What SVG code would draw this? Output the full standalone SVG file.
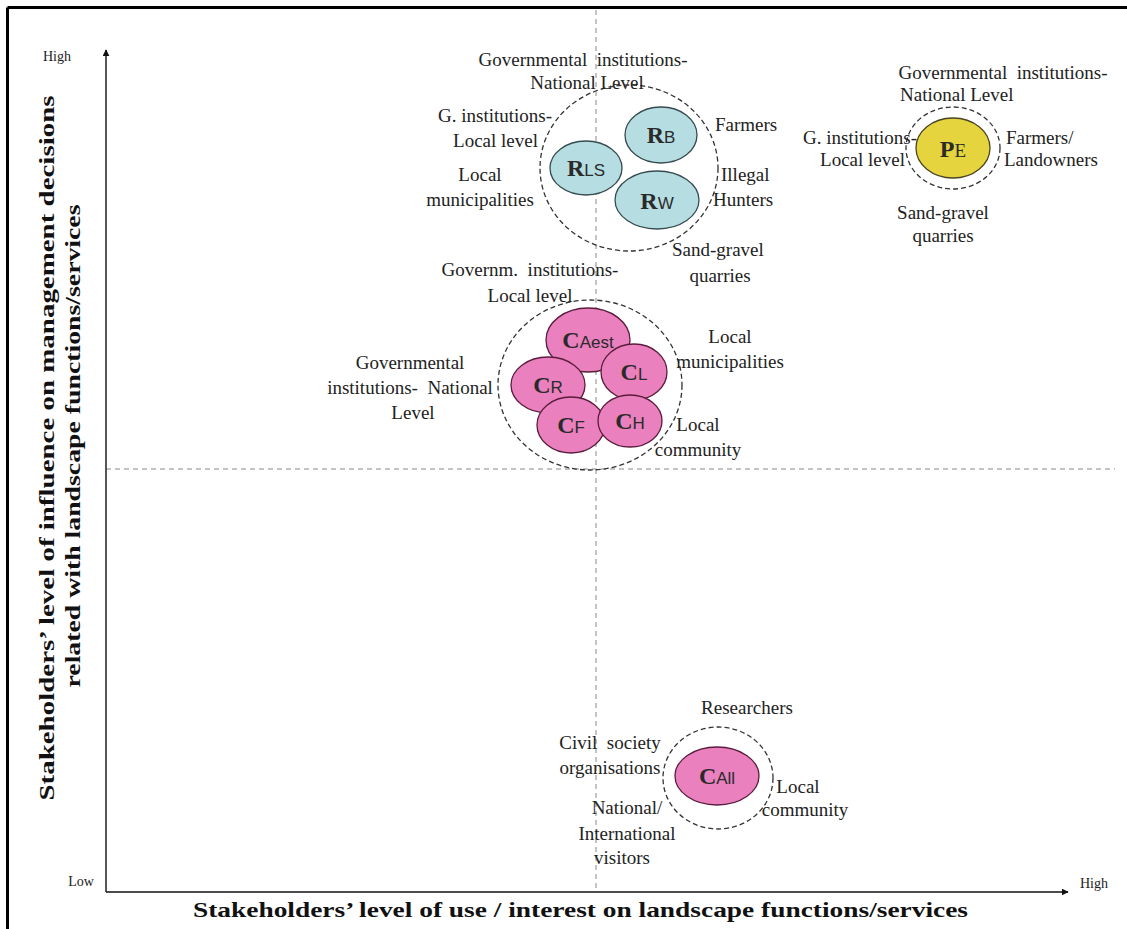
<svg xmlns="http://www.w3.org/2000/svg" width="1127" height="929" viewBox="0 0 1127 929">
<style>
.lbl{font-family:"Liberation Serif","Times New Roman",serif;font-size:19px;fill:#222}
.ax{font-family:"Liberation Serif","Times New Roman",serif;font-size:14px;fill:#222}
.title{font-family:"Liberation Serif","Times New Roman",serif;font-size:22px;font-weight:bold;fill:#111}
.big{font-family:"Liberation Serif","Times New Roman",serif;font-size:24px;font-weight:bold}
.sub{font-family:"Liberation Sans",Arial,sans-serif;font-size:17px}
.subs{font-family:"Liberation Serif","Times New Roman",serif;font-size:19px}
.nt{fill:#2a2a2a}
.grp{fill:none;stroke:#333;stroke-width:1.3;stroke-dasharray:5,3}
.teal{fill:#b6dde1;stroke:#354b4f;stroke-width:1.3}
.yel{fill:#e6d43e;stroke:#4a4420;stroke-width:1.3}
.pink{fill:#ea80be;stroke:#5a1c3c;stroke-width:1.3}
.guide{stroke:#888;stroke-width:1;stroke-dasharray:5,4;fill:none}
.axis{stroke:#111;stroke-width:1.4;fill:none}
</style>
<defs>
<marker id="arr" viewBox="0 0 10 10" refX="9" refY="5" markerWidth="7" markerHeight="7" orient="auto" markerUnits="userSpaceOnUse">
<path d="M0,0 L10,5 L0,10 z" fill="#111"/>
</marker>
</defs>
<rect width="1127" height="929" fill="#fff"/>
<!-- frame -->
<line x1="7.5" y1="7.5" x2="1127" y2="7.5" stroke="#000" stroke-width="3"/>
<line x1="7.5" y1="7.5" x2="7.5" y2="929" stroke="#000" stroke-width="3"/>

<g id="connectors">
<line class="guide" x1="596" y1="10" x2="596" y2="890"/>
<line class="guide" x1="106" y1="469" x2="1115" y2="469"/>
<line class="axis" x1="106" y1="892" x2="106" y2="50" marker-end="url(#arr)"/>
<line class="axis" x1="106" y1="892" x2="1068" y2="892" marker-end="url(#arr)"/>
</g>

<g id="axis-labels">
<text class="ax" x="57" y="61" text-anchor="middle">High</text>
<text class="ax" x="81" y="886" text-anchor="middle">Low</text>
<text class="ax" x="1080" y="888">High</text>
<text class="title" x="193" y="917" textLength="775" lengthAdjust="spacingAndGlyphs">Stakeholders’ level of use / interest on landscape functions/services</text>
<text class="title" transform="translate(54,448) rotate(-90)" text-anchor="middle" textLength="705" lengthAdjust="spacingAndGlyphs">Stakeholders’ level of influence on management decisions</text>
<text class="title" transform="translate(80,446) rotate(-90)" text-anchor="middle" textLength="483" lengthAdjust="spacingAndGlyphs">related with landscape functions/services</text>
</g>

<g id="cluster-R">
<ellipse class="grp" cx="629" cy="168" rx="89" ry="83"/>
<g id="node-RLS">
<ellipse class="teal" cx="586" cy="168" rx="36" ry="27"/>
<text class="nt" x="586" y="176" text-anchor="middle"><tspan class="big">R</tspan><tspan class="sub">LS</tspan></text>
</g>
<g id="node-RB">
<ellipse class="teal" cx="661" cy="135" rx="36" ry="28"/>
<text class="nt" x="661" y="143" text-anchor="middle"><tspan class="big">R</tspan><tspan class="sub">B</tspan></text>
</g>
<g id="node-RW">
<ellipse class="teal" cx="657" cy="200" rx="42" ry="29"/>
<text class="nt" x="657" y="209" text-anchor="middle"><tspan class="big">R</tspan><tspan class="sub">W</tspan></text>
</g>
<text class="lbl" x="583" y="66" text-anchor="middle" xml:space="preserve">Governmental  institutions-</text>
<text class="lbl" x="587" y="89" text-anchor="middle">National Level</text>
<text class="lbl" x="552" y="122" text-anchor="end">G. institutions-</text>
<text class="lbl" x="538" y="147" text-anchor="end">Local level</text>
<text class="lbl" x="480" y="181" text-anchor="middle">Local</text>
<text class="lbl" x="480" y="206" text-anchor="middle">municipalities</text>
<text class="lbl" x="715" y="131">Farmers</text>
<text class="lbl" x="721" y="181">Illegal</text>
<text class="lbl" x="713" y="206">Hunters</text>
<text class="lbl" x="672" y="256">Sand-gravel</text>
<text class="lbl" x="720" y="282" text-anchor="middle">quarries</text>
</g>

<g id="cluster-P">
<ellipse class="grp" cx="953" cy="148" rx="47" ry="41"/>
<g id="node-PE">
<ellipse class="yel" cx="953" cy="148" rx="37" ry="30"/>
<text class="nt" x="953" y="157" text-anchor="middle"><tspan class="big">P</tspan><tspan class="subs">E</tspan></text>
</g>
<text class="lbl" x="1003" y="79" text-anchor="middle" xml:space="preserve">Governmental  institutions-</text>
<text class="lbl" x="900" y="101">National Level</text>
<text class="lbl" x="917" y="144" text-anchor="end">G. institutions-</text>
<text class="lbl" x="905" y="166" text-anchor="end">Local level</text>
<text class="lbl" x="1006" y="144">Farmers/</text>
<text class="lbl" x="1004" y="166">Landowners</text>
<text class="lbl" x="943" y="219" text-anchor="middle">Sand-gravel</text>
<text class="lbl" x="943" y="242" text-anchor="middle">quarries</text>
</g>

<g id="cluster-C">
<ellipse class="grp" cx="590" cy="385" rx="92" ry="85"/>
<g id="node-CAest">
<ellipse class="pink" cx="588" cy="340" rx="42" ry="32"/>
<text class="nt" x="588" y="348" text-anchor="middle"><tspan class="big">C</tspan><tspan class="sub">Aest</tspan></text>
</g>
<g id="node-CR">
<ellipse class="pink" cx="548" cy="385" rx="37" ry="28"/>
<text class="nt" x="548" y="393" text-anchor="middle"><tspan class="big">C</tspan><tspan class="sub">R</tspan></text>
</g>
<g id="node-CL">
<ellipse class="pink" cx="634" cy="372" rx="33" ry="28"/>
<text class="nt" x="634" y="380" text-anchor="middle"><tspan class="big">C</tspan><tspan class="sub">L</tspan></text>
</g>
<g id="node-CF">
<ellipse class="pink" cx="571" cy="425" rx="34" ry="28"/>
<text class="nt" x="571" y="433" text-anchor="middle"><tspan class="big">C</tspan><tspan class="sub">F</tspan></text>
</g>
<g id="node-CH">
<ellipse class="pink" cx="630" cy="421" rx="32" ry="26"/>
<text class="nt" x="630" y="429" text-anchor="middle"><tspan class="big">C</tspan><tspan class="sub">H</tspan></text>
</g>
<text class="lbl" x="530" y="276" text-anchor="middle" xml:space="preserve">Governm.  institutions-</text>
<text class="lbl" x="530" y="302" text-anchor="middle">Local level</text>
<text class="lbl" x="410" y="369" text-anchor="middle">Governmental</text>
<text class="lbl" x="410" y="394" text-anchor="middle" xml:space="preserve">institutions-  National</text>
<text class="lbl" x="413" y="419" text-anchor="middle">Level</text>
<text class="lbl" x="730" y="343" text-anchor="middle">Local</text>
<text class="lbl" x="730" y="368" text-anchor="middle">municipalities</text>
<text class="lbl" x="698" y="431" text-anchor="middle">Local</text>
<text class="lbl" x="698" y="456" text-anchor="middle">community</text>
</g>

<g id="cluster-CAll">
<ellipse class="grp" cx="718" cy="778" rx="55" ry="51"/>
<g id="node-CAll">
<ellipse class="pink" cx="717" cy="776" rx="42" ry="29"/>
<text class="nt" x="717" y="784" text-anchor="middle"><tspan class="big">C</tspan><tspan class="sub">All</tspan></text>
</g>
<text class="lbl" x="747" y="714" text-anchor="middle">Researchers</text>
<text class="lbl" x="610" y="749" text-anchor="middle" xml:space="preserve">Civil  society</text>
<text class="lbl" x="610" y="774" text-anchor="middle">organisations</text>
<text class="lbl" x="627" y="814" text-anchor="middle">National/</text>
<text class="lbl" x="627" y="840" text-anchor="middle">International</text>
<text class="lbl" x="622" y="864" text-anchor="middle">visitors</text>
<text class="lbl" x="798" y="793" text-anchor="middle">Local</text>
<text class="lbl" x="805" y="816" text-anchor="middle">community</text>
</g>
</svg>
